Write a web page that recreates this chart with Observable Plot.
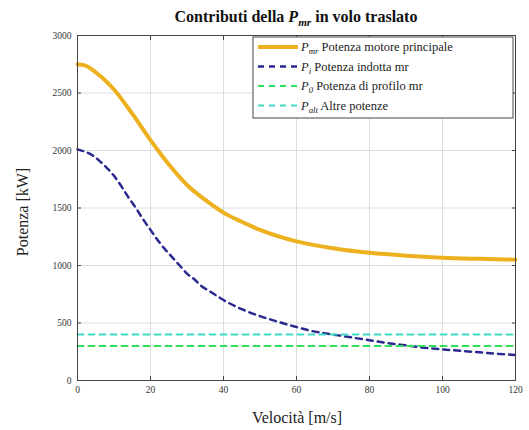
<!DOCTYPE html>
<html>
<head>
<meta charset="utf-8">
<script src="https://cdn.jsdelivr.net/npm/d3@7"></script>
<script src="https://cdn.jsdelivr.net/npm/@observablehq/plot@0.6"></script>
<style>
  html, body { margin: 0; padding: 0; background: #fff; }
</style>
</head>
<body>
<div id="chart"></div>
<script>
// Velocità [m/s] and P_mr [kW]
const velMr = [0, 2, 5, 10, 15, 20, 25, 30, 35, 40, 45, 50, 60, 70, 80, 90, 100, 110, 120];
const pMr = [2750, 2740, 2680, 2530, 2320, 2090, 1880, 1700, 1570, 1460, 1380, 1310, 1210, 1150, 1110, 1085, 1068, 1058, 1050];
// P_i
const velI = [0, 2, 4, 6, 8, 10, 12, 14, 16, 18, 20, 22, 24, 26, 28, 30, 32, 34, 36, 38, 40, 45, 50, 55, 60, 65, 70, 75, 80, 85, 90, 95, 100, 105, 110, 115, 120];
const pI = [2010, 1990, 1960, 1910, 1850, 1780, 1690, 1590, 1500, 1400, 1310, 1220, 1140, 1070, 1000, 930, 880, 820, 780, 740, 700, 620, 560, 510, 465, 425, 400, 375, 350, 325, 305, 285, 270, 258, 245, 232, 222];
// P_0 and P_alt (constant)
const velConst = [0, 120];
const p0 = [300, 300];
const pAlt = [400, 400];
const xTicks = [0, 20, 40, 60, 80, 100, 120];
const yTicks = [0, 500, 1000, 1500, 2000, 2500, 3000];

const colMr = "#EDB120", colI = "#2a2a8e", col0 = "#2ee05a", colAlt = "#40dcc6";

const mr = velMr.map((v, i) => ({v, p: pMr[i]}));
const ind = velI.map((v, i) => ({v, p: pI[i]}));
const prof = velConst.map((v, i) => ({v, p: p0[i]}));
const alt = velConst.map((v, i) => ({v, p: pAlt[i]}));

const F = "'Liberation Serif', 'DejaVu Serif', serif";
const W = 529, H = 430;
const chart = Plot.plot({
  width: W, height: H,
  marginLeft: 77, marginRight: 14, marginTop: 35, marginBottom: 50,
  style: {fontFamily: F, fontSize: "9.5px", color: "#333"},
  x: {domain: [0, 120], ticks: xTicks, label: null},
  y: {domain: [0, 3000], ticks: yTicks, label: null},
  marks: [
    Plot.gridX(xTicks, {stroke: "#ddd", strokeOpacity: 1}),
    Plot.gridY(yTicks, {stroke: "#ddd", strokeOpacity: 1}),
    Plot.axisX({ticks: xTicks, tickSize: -4, tickPadding: 10, stroke: "#444", tickFormat: d => String(d)}),
    Plot.axisX({ticks: xTicks, anchor: "top", tickSize: -4, tickFormat: () => "", stroke: "#444"}),
    Plot.axisY({ticks: yTicks, tickSize: -4, tickPadding: 10, stroke: "#444", tickFormat: d => String(d)}),
    Plot.axisY({ticks: yTicks, anchor: "right", tickSize: -4, tickFormat: () => "", stroke: "#444"}),
    Plot.line(mr, {x: "v", y: "p", stroke: colMr, strokeWidth: 4, curve: "monotone-x"}),
    Plot.line(ind, {x: "v", y: "p", stroke: colI, strokeWidth: 2.5, strokeDasharray: "6,5", curve: "monotone-x"}),
    Plot.line(prof, {x: "v", y: "p", stroke: col0, strokeWidth: 2, strokeDasharray: "6,5"}),
    Plot.line(alt, {x: "v", y: "p", stroke: colAlt, strokeWidth: 2, strokeDasharray: "6,5"}),
    Plot.frame({stroke: "#444", strokeWidth: 1})
  ]
});
document.getElementById("chart").appendChild(chart);

const svg = d3.select(chart);

function addP(sel, sub, fs) {
  sel.append("tspan").attr("font-style", "italic").text("P");
  sel.append("tspan").attr("font-style", "italic").attr("font-size", fs * 0.7).attr("dy", fs * 0.25).text(sub);
  sel.append("tspan").attr("dy", -fs * 0.25).text(" ");
}

// Title
const t = svg.append("text").attr("x", 296).attr("y", 22).attr("text-anchor", "middle")
  .style("font-family", F).attr("font-size", 16).attr("font-weight", "bold").attr("fill", "#111");
t.append("tspan").text("Contributi della ");
addP(t, "mr", 16);
t.append("tspan").text("in volo traslato");

// Axis labels
svg.append("text").attr("x", 297).attr("y", 423).attr("text-anchor", "middle")
  .style("font-family", F).attr("font-size", 16).attr("fill", "#222").text("Velocità [m/s]");
svg.append("text").attr("transform", "translate(28,212) rotate(-90)").attr("text-anchor", "middle")
  .style("font-family", F).attr("font-size", 16).attr("fill", "#222").text("Potenza [kW]");

// Legend
const lg = svg.append("g").attr("text-anchor", "start");
lg.append("rect").attr("x", 253).attr("y", 37).attr("width", 260).attr("height", 81)
  .attr("fill", "#fff").attr("stroke", "#444").attr("stroke-width", 1);
const items = [
  {sub: "mr", text: "Potenza motore principale", c: colMr, w: 4, dash: null},
  {sub: "i", text: "Potenza indotta mr", c: colI, w: 2.5, dash: "6,5"},
  {sub: "0", text: "Potenza di profilo mr", c: col0, w: 2, dash: "6,5"},
  {sub: "alt", text: "Altre potenze", c: colAlt, w: 2, dash: "6,5"}
];
items.forEach((it, i) => {
  const y = 47 + i * 19.5;
  const l = lg.append("line").attr("x1", 258).attr("x2", 298).attr("y1", y).attr("y2", y)
    .attr("stroke", it.c).attr("stroke-width", it.w);
  if (it.dash) l.attr("stroke-dasharray", it.dash);
  const tx = lg.append("text").attr("x", 301).attr("y", y + 4).attr("text-anchor", "start")
    .style("font-family", F).attr("font-size", 12.5).attr("fill", "#222");
  addP(tx, it.sub, 12.5);
  tx.append("tspan").text(it.text);
});
</script>
</body>
</html>
